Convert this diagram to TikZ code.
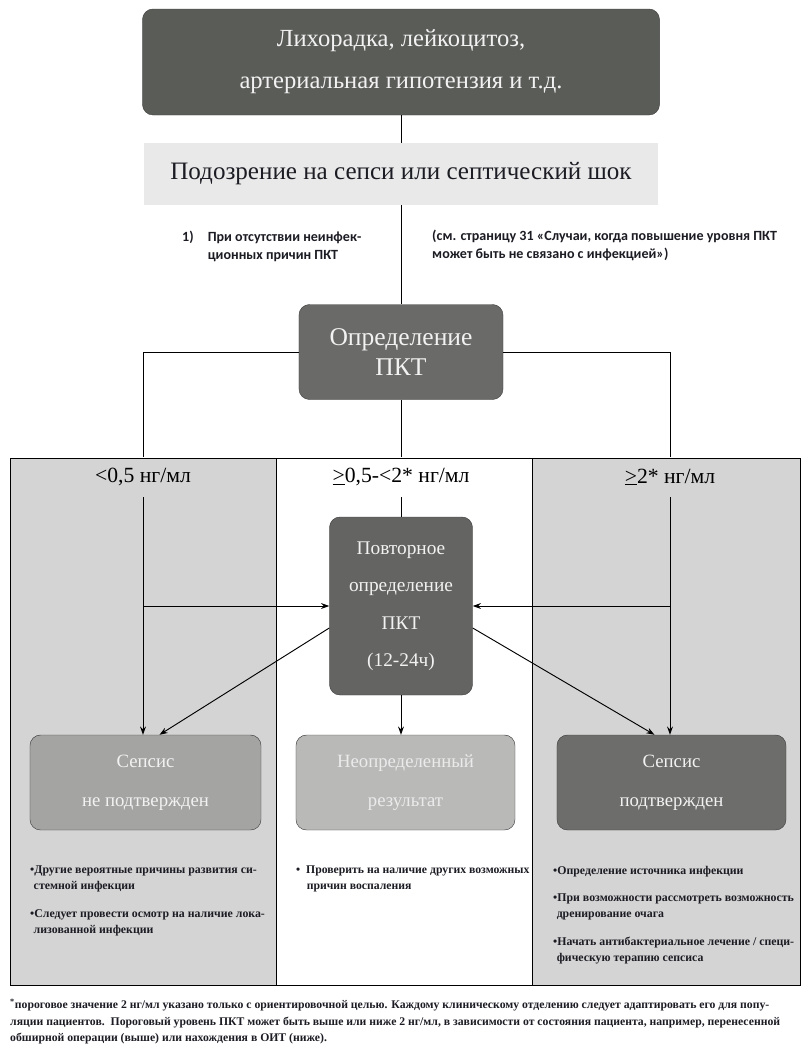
\documentclass[tikz,border=0pt]{standalone}
\usepackage{fontspec}
\setmainfont{Liberation Serif}
\newfontfamily\notefont{Carlito}
\usetikzlibrary{arrows.meta,calc,positioning}
\definecolor{topgray}{HTML}{5A5C58}
\definecolor{pctgray}{HTML}{6A6B68}
\definecolor{repgray}{HTML}{646562}
\definecolor{neggray}{HTML}{A4A5A3}
\definecolor{unkgray}{HTML}{B9BAB8}
\definecolor{posgray}{HTML}{6D6E6C}
\definecolor{panelgray}{HTML}{D4D4D4}
\definecolor{bandgray}{HTML}{E9E9E9}
\definecolor{boxtext}{HTML}{F2F2F2}
\definecolor{inktext}{HTML}{1C1C24}
\tikzset{
  flowbox/.style={rounded corners=9pt, draw=black!75, inner sep=0pt, align=center, text=boxtext},
  link/.style={draw=black, line width=0.8pt},
  arr/.style={link, -{Stealth[length=7pt,width=5pt]}},
  rangelabel/.style={inner sep=0pt, minimum height=1.2cm, font=\fontsize{18.5}{22}\selectfont},
  bullets/.style={anchor=north west, inner sep=0pt, align=left, text=inktext,
                  font=\fontsize{10.1}{13.5}\selectfont\bfseries},
  panel/.style={draw=black, line width=0.6pt}
}
\begin{document}
\begin{tikzpicture}[x=0.03cm,y=-0.03cm]
\fill[white] (0,0) rectangle (803,1050);
\useasboundingbox (0,0) rectangle (803,1050);

% column panels
\filldraw[panel,fill=panelgray] (10,458) rectangle (276,985);
\filldraw[panel,fill=white] (276,458) rectangle (532,985);
\filldraw[panel,fill=panelgray] (532,458) rectangle (800,985);

% upper part
\node[flowbox,fill=topgray,minimum width=15.51cm,minimum height=3.18cm,
      font=\fontsize{21}{36}\selectfont] (top) at (401,62)
      {Лихорадка, лейкоцитоз,\\артериальная гипотензия и т.д.};
\node[fill=bandgray,inner sep=0pt,minimum width=15.42cm,minimum height=1.86cm,
      font=\fontsize{21.4}{24}\selectfont,text=inktext] (band) at (401,174)
      {Подозрение на сепси или септический шок};
\node[anchor=north west,inner sep=0pt,text=inktext,
      font=\notefont\bfseries\fontsize{12}{15}\selectfont] (cond) at (182,229)
      {\begin{tabular}{@{}l@{\hspace{12pt}}l@{}}1) & При отсутствии неинфек-\\ & ционных причин ПКТ\end{tabular}};
\node[anchor=north west,inner sep=0pt,text=inktext,align=left,
      font=\notefont\bfseries\fontsize{12}{15.5}\selectfont] (ref) at (432,230)
      {(см. страницу 31 «Случаи, когда повышение уровня ПКТ\\может быть не связано с инфекцией»)};
\node[flowbox,fill=pctgray,minimum width=6.12cm,minimum height=2.85cm,
      font=\fontsize{21.8}{26}\selectfont] (pct) at (401,352)
      {Определение\\ПКТ};

% range labels
\node[rangelabel] (lowl) at (143,477) {<0,5 нг/мл};
\node[rangelabel] (midl) at (401,477) {\underline{>}0,5-<2* нг/мл};
\node[rangelabel] (highl) at (670,477) {\underline{>}2* нг/мл};

% repeat test and outcomes
\node[flowbox,fill=repgray,minimum width=4.29cm,minimum height=5.34cm,
      font=\fontsize{16.5}{32}\selectfont] (rep) at (401,606)
      {Повторное\\определение\\ПКТ\\(12-24ч)};
\node[flowbox,fill=neggray,minimum width=6.93cm,minimum height=2.85cm,
      font=\fontsize{16}{33}\selectfont] (neg) at (145.5,782.5)
      {Сепсис\\не подтвержден};
\node[flowbox,fill=unkgray,minimum width=6.57cm,minimum height=2.85cm,
      font=\fontsize{16}{33}\selectfont,text=black!8] (unk) at (405.5,782.5)
      {Неопределенный\\результат};
\node[flowbox,fill=posgray,minimum width=6.87cm,minimum height=2.85cm,
      font=\fontsize{16}{33}\selectfont] (pos) at (671.5,782.5)
      {Сепсис\\подтвержден};

% connectors
\draw[link] (top.south) -- (band.north);
\draw[link] (band.south) -- (pct.north);
\draw[link] (pct.west) -| (lowl.north);
\draw[link] (pct.east) -| (highl.north);
\draw[link] (pct.south) -- (midl.north);
\draw[link] (midl.south) -- (rep.north);
\draw[arr] (lowl.south) -- (lowl.south |- neg.north);
\draw[arr] (highl.south) -- (highl.south |- pos.north);
\draw[arr] (lowl.south |- rep.west) -- (rep.west);
\draw[arr] (highl.south |- rep.east) -- (rep.east);
\draw[arr] ($(rep.west)+(0,22)$) -- ($(neg.north)+(14,0)$);
\draw[arr] ($(rep.east)+(0,22)$) -- ($(pos.north)+(-17,0)$);
\draw[arr] (rep.south) -- (rep.south |- unk.north);

% notes under outcomes
\node[bullets] (negtxt) at (30,866)
  {•Другие вероятные причины развития си-\\\hspace*{3pt}стемной инфекции\\[10pt]
   •Следует провести осмотр на наличие лока-\\\hspace*{3pt}лизованной инфекции};
\node[bullets,font=\fontsize{10}{13.5}\selectfont\bfseries] (unktxt) at (296,866)
  {•\hspace{5pt}Проверить на наличие других возможных\\\hspace*{9pt}причин воспаления};
\node[bullets] (postxt) at (553,866)
  {•Определение источника инфекции\\[10pt]
   •При возможности рассмотреть возможность\\\hspace*{3pt}дренирование очага\\[10pt]
   •Начать антибактериальное лечение / специ-\\\hspace*{3pt}фическую терапию сепсиса};

% footnote
\node[anchor=north west,inner sep=0pt,align=left,text=inktext,
      font=\fontsize{10}{14}\selectfont\bfseries] (foot) at (10,999)
  {\textsuperscript{*}пороговое значение 2 нг/мл указано только с ориентировочной целью. Каждому клиническому отделению следует адаптировать его для попу-\\
   ляции пациентов.\ \ Пороговый уровень ПКТ может быть выше или ниже 2 нг/мл, в зависимости от состояния пациента, например, перенесенной\\
   обширной операции (выше) или нахождения в ОИТ (ниже).};
\end{tikzpicture}
\end{document}
